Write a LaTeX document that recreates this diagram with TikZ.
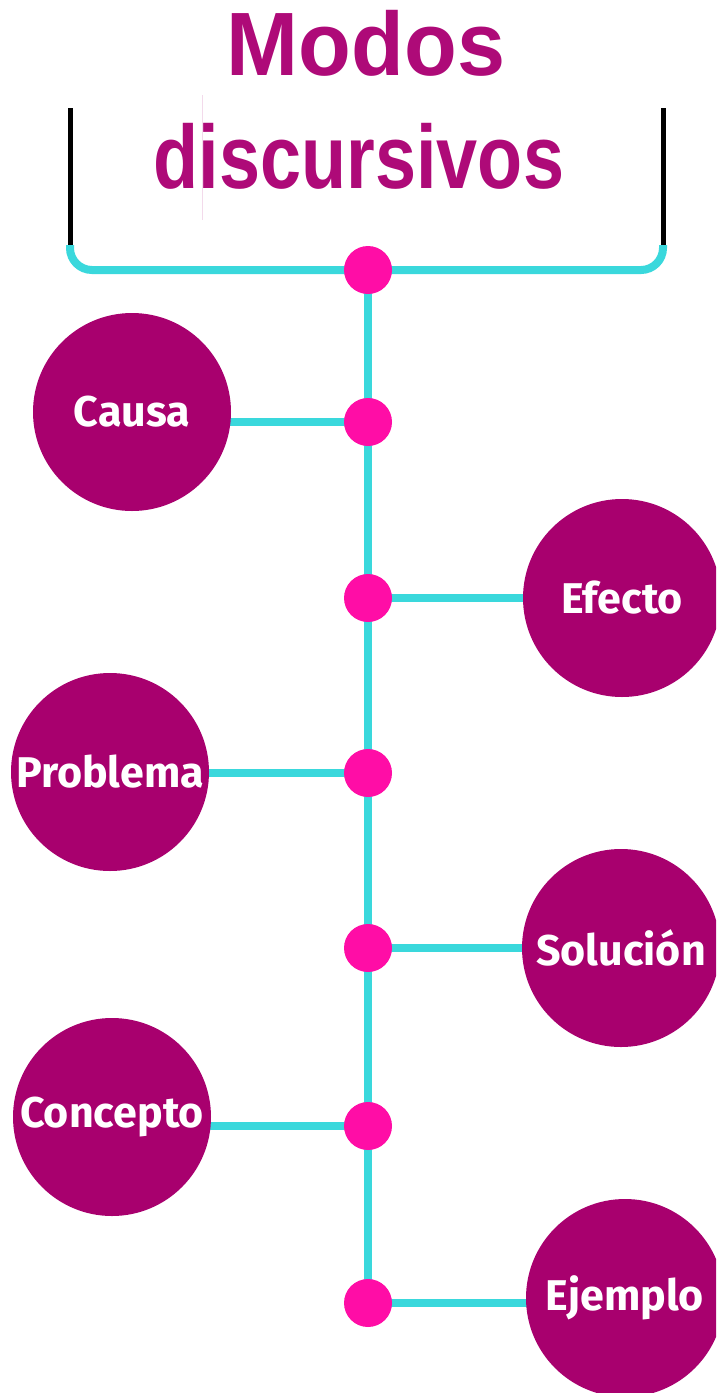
\documentclass[tikz,border=0pt]{standalone}
\usepackage{fontspec}
\setmainfont{Liberation Sans}
\newfontfamily\circfont{Fira Sans}
\usetikzlibrary{backgrounds}
\definecolor{titlec}{HTML}{AE0A78}
\definecolor{circc}{HTML}{A8006E}
\definecolor{dotc}{HTML}{FF0DA6}
\definecolor{linec}{HTML}{3AD8DC}
\tikzset{
  bubble/.style={circle, fill=circc, inner sep=0pt, minimum size=198pt, text=white,
     font=\circfont\bfseries\fontsize{43}{43}\selectfont},
  dotn/.style={circle, fill=dotc, inner sep=0pt, minimum size=48pt},
  link/.style={draw=linec, line width=8pt},
  titletext/.style={text=titlec, font=\bfseries\fontsize{90}{90}\selectfont, inner sep=0pt, anchor=base},
  barline/.style={draw=black, line width=5pt}
}
\begin{document}
\begin{tikzpicture}[x=1pt,y=-1pt]
\useasboundingbox (0,0) rectangle (716,1393);
\clip (0,0) rectangle (716,1393);
% title
\node[titletext] (t1) at (366,75) {\scalebox{0.96}[1]{Modos}};
\node[titletext] (t2) at (359,188) {\scalebox{0.82}[1]{discursivos}};
\draw[draw=titlec!15, line width=0.5pt] (202,95) -- (202,220);
% bracket
\coordinate (bl) at (70,108);
\coordinate (br) at (663,108);
\coordinate (blb) at (70,245);
\coordinate (brb) at (663,245);
\draw[barline] (bl) -- (blb);
\draw[barline] (br) -- (brb);
% dots
\node[dotn] (d0) at (368,270) {};
\node[dotn] (d1) at (368,422) {};
\node[dotn] (d2) at (368,598) {};
\node[dotn] (d3) at (368,773) {};
\node[dotn] (d4) at (368,948) {};
\node[dotn] (d5) at (368,1126) {};
\node[dotn] (d6) at (368,1303) {};
% bubbles
\node[bubble] (causa) at (132,412) {Causa};
\node[bubble] (efecto) at (622,598) {Efecto};
\node[bubble] (problema) at (110,772) {Problema};
\node[bubble] (solucion) at (621,948) {Solución};
\node[bubble] (concepto) at (112,1117) {Concepto};
\node[bubble] (ejemplo) at (625,1298) {Ejemplo};
% lines behind
\begin{scope}[on background layer]
\draw[link, rounded corners=22pt] (blb) -- (blb |- d0.center) -- (brb |- d0.center) -- (brb);
\draw[link] (d0.center) -- (d6.center);
\draw[link] (d1.center) -- (d1.center -| causa.center);
\draw[link] (d2.center) -- (d2.center -| efecto.center);
\draw[link] (d3.center) -- (d3.center -| problema.center);
\draw[link] (d4.center) -- (d4.center -| solucion.center);
\draw[link] (d5.center) -- (d5.center -| concepto.center);
\draw[link] (d6.center) -- (d6.center -| ejemplo.center);
\end{scope}
\end{tikzpicture}
\end{document}
